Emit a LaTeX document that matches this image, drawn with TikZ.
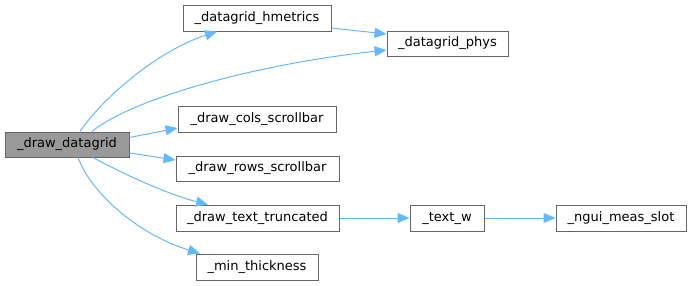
\documentclass[tikz,border=0pt]{standalone}
\usepackage{fontspec}
\setmainfont{DejaVu Sans}
\usetikzlibrary{arrows.meta,calc}
\definecolor{edgeblue}{HTML}{63B8FF}
\definecolor{boxborder}{HTML}{666666}
\definecolor{mainfill}{HTML}{999999}
\tikzset{
  fnbox/.style={draw=boxborder, line width=1pt, fill=white, inner sep=0pt, font=\fontsize{13}{15}\selectfont, text=black},
  mainbox/.style={fnbox, fill=mainfill},
  calledge/.style={draw=edgeblue, line width=1pt, -{Triangle[length=12pt,width=10pt]}},
}
\begin{document}
\begin{tikzpicture}[x=1pt,y=-1pt]
\useasboundingbox (0,0) rectangle (692,285);
\node[mainbox, minimum width=124pt, minimum height=25pt] (main) at (67,144.5) {\_draw\_datagrid};
\node[fnbox, minimum width=148pt, minimum height=26pt] (hmetrics) at (257,18) {\_datagrid\_hmetrics};
\node[fnbox, minimum width=121pt, minimum height=25pt] (phys) at (447.5,43.5) {\_datagrid\_phys};
\node[fnbox, minimum width=158pt, minimum height=26pt] (cols) at (257,119) {\_draw\_cols\_scrollbar};
\node[fnbox, minimum width=163pt, minimum height=25pt] (rows) at (257.5,168.5) {\_draw\_rows\_scrollbar};
\node[fnbox, minimum width=163pt, minimum height=26pt] (trunc) at (257.5,218) {\_draw\_text\_truncated};
\node[fnbox, minimum width=122pt, minimum height=26pt] (minth) at (257,267) {\_min\_thickness};
\node[fnbox, minimum width=74pt, minimum height=26pt] (textw) at (447,218) {\_text\_w};
\node[fnbox, minimum width=130pt, minimum height=26pt] (ngui) at (621,218) {\_ngui\_meas\_slot};

\draw[calledge] ($(main.north)+(13,0)$) .. controls (105,95) and (160,50) .. ($(hmetrics.south)+(-40,0)$);
\draw[calledge] ($(main.north)+(25,0)$) .. controls (130,100) and (250,65) .. ($(phys.west)+(0,6.5)$);
\draw[calledge] ($(hmetrics.east)+(0,10)$) -- ($(phys.west)+(0,-9.5)$);
\draw[calledge] ($(main.east)+(0,-7)$) -- ($(cols.west)+(0,9)$);
\draw[calledge] ($(main.east)+(0,8.5)$) -- ($(rows.west)+(0,-8.5)$);
\draw[calledge] ($(main.south)+(26,0)$) .. controls (125,175) and (170,195) .. ($(trunc.north)+(-49.5,0)$);
\draw[calledge] ($(main.south)+(11,0)$) .. controls (92,195) and (140,235) .. ($(minth.north)+(-57,0)$);
\draw[calledge] (trunc.east) -- (textw.west);
\draw[calledge] (textw.east) -- (ngui.west);
\end{tikzpicture}
\end{document}
